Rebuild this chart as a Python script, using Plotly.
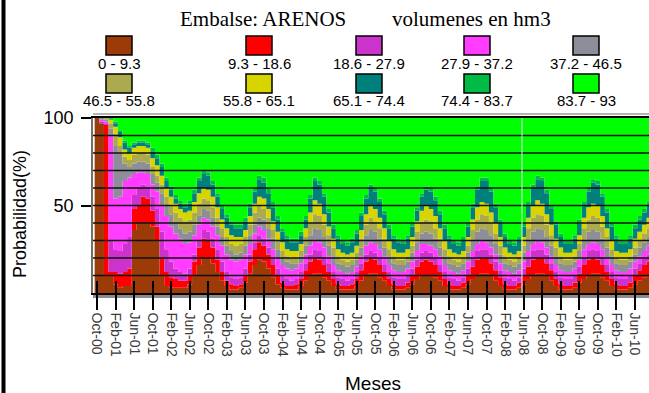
import plotly.graph_objects as go

# ---------------- data (cumulative probability, % , top of each band) ----------------
tick_labels = ["Oct-00", "Feb-01", "Jun-01", "Oct-01", "Feb-02", "Jun-02", "Oct-02", "Feb-03",
               "Jun-03", "Oct-03", "Feb-04", "Jun-04", "Oct-04", "Feb-05", "Jun-05", "Oct-05",
               "Feb-06", "Jun-06", "Oct-06", "Feb-07", "Jun-07", "Oct-07", "Feb-08", "Jun-08",
               "Oct-08", "Feb-09", "Jun-09", "Oct-09", "Feb-10", "Jun-10"]

band_labels = ["0 - 9.3", "9.3 - 18.6", "18.6 - 27.9", "27.9 - 37.2", "37.2 - 46.5",
               "46.5 - 55.8", "55.8 - 65.1", "65.1 - 74.4", "74.4 - 83.7", "83.7 - 93"]
band_colors = ["#9C3A08", "#FF0000", "#CC33CC", "#FF3CFF", "#8E8E9A",
               "#ABAA4E", "#D8D400", "#00807A", "#00BB44", "#00FF00"]

b1 = [100, 97, 10, 10, 5, 3, 4, 4, 36, 40, 40, 40,
      38, 30, 10, 4, 3, 3, 3, 3, 5, 10, 16, 20,
      20, 17, 12, 7, 4, 2, 2, 3, 6, 11, 16, 19,
      18, 14, 9, 5, 3, 2, 2, 2, 4, 7, 10, 11,
      11, 9, 7, 4, 2, 2, 2, 2, 4, 7, 10, 11,
      11, 9, 7, 4, 2, 2, 2, 3, 5, 8, 10, 10,
      10, 9, 7, 4, 2, 2, 2, 3, 5, 8, 10, 11,
      11, 10, 7, 4, 2, 2, 2, 3, 5, 8, 10, 11,
      11, 10, 7, 4, 2, 2, 2, 3, 6, 8, 10, 11,
      11, 9, 7, 4, 2, 2, 2, 3, 5, 7, 9, 10]
b2 = [100, 97, 96, 12, 12, 11, 12, 14, 48, 50, 55, 54,
      47, 38, 20, 12, 9, 8, 7, 7, 10, 18, 26, 31,
      30, 26, 19, 12, 7, 5, 4, 5, 10, 18, 25, 29,
      27, 22, 16, 10, 6, 4, 4, 5, 8, 13, 18, 20,
      19, 16, 12, 8, 5, 4, 4, 5, 8, 13, 18, 20,
      19, 16, 12, 8, 5, 4, 4, 6, 10, 15, 18, 19,
      18, 16, 12, 8, 5, 4, 4, 6, 10, 15, 19, 20,
      20, 17, 13, 9, 5, 4, 4, 6, 10, 15, 19, 20,
      20, 17, 13, 8, 5, 4, 4, 6, 11, 16, 19, 20,
      19, 16, 12, 8, 5, 4, 4, 6, 10, 13, 16, 18]
b3 = [100, 98, 97, 30, 25, 24, 28, 32, 56, 60, 62, 61,
      55, 48, 35, 25, 18, 14, 12, 11, 14, 22, 30, 36,
      35, 31, 25, 18, 12, 9, 8, 9, 14, 22, 29, 33,
      31, 26, 20, 14, 10, 8, 7, 8, 12, 17, 22, 25,
      24, 21, 17, 12, 9, 8, 7, 8, 12, 17, 22, 24,
      23, 20, 16, 12, 9, 8, 8, 10, 14, 19, 23, 24,
      23, 20, 16, 12, 9, 8, 7, 9, 14, 20, 24, 25,
      25, 22, 18, 13, 9, 8, 7, 9, 14, 20, 24, 25,
      25, 22, 17, 12, 9, 8, 8, 10, 15, 20, 24, 25,
      24, 21, 16, 12, 9, 8, 8, 10, 14, 17, 20, 22]
b4 = [100, 99, 98, 90, 54, 55, 64, 66, 68, 69, 69, 68,
      62, 58, 50, 44, 38, 34, 31, 28, 29, 33, 39, 43,
      42, 38, 33, 27, 22, 19, 18, 19, 22, 28, 34, 38,
      36, 31, 25, 20, 16, 14, 13, 14, 17, 22, 27, 30,
      29, 26, 21, 16, 13, 12, 11, 12, 15, 21, 27, 29,
      28, 25, 21, 16, 13, 12, 12, 14, 18, 24, 28, 28,
      27, 25, 21, 16, 13, 12, 11, 13, 18, 24, 28, 30,
      29, 26, 22, 17, 13, 12, 11, 13, 18, 24, 28, 30,
      29, 26, 21, 16, 13, 12, 12, 14, 19, 25, 28, 29,
      28, 25, 20, 16, 13, 12, 12, 14, 18, 21, 24, 27]
b5 = [100, 100, 99, 94, 84, 80, 74, 72, 74, 75, 75, 74,
      68, 63, 57, 50, 45, 40, 37, 34, 35, 39, 44, 48,
      47, 43, 38, 32, 27, 24, 22, 23, 27, 33, 39, 43,
      42, 37, 31, 25, 20, 18, 17, 17, 21, 27, 33, 37,
      36, 32, 27, 21, 17, 16, 15, 16, 19, 26, 33, 36,
      35, 31, 26, 21, 17, 16, 16, 18, 23, 29, 34, 35,
      34, 31, 26, 21, 17, 16, 15, 17, 23, 30, 35, 37,
      36, 33, 28, 22, 17, 16, 15, 17, 23, 30, 35, 37,
      36, 32, 27, 21, 17, 16, 16, 18, 24, 30, 35, 36,
      35, 31, 26, 21, 17, 16, 16, 18, 22, 26, 29, 32]
b6 = [100, 100, 100, 97, 91, 84, 78, 76, 79, 80, 80, 79,
      72, 67, 62, 55, 50, 46, 43, 41, 42, 46, 51, 54,
      53, 49, 43, 37, 32, 28, 27, 28, 32, 39, 46, 50,
      48, 43, 36, 30, 24, 21, 20, 20, 24, 32, 40, 45,
      44, 39, 33, 26, 21, 19, 18, 19, 23, 31, 39, 43,
      41, 37, 31, 25, 21, 19, 19, 21, 27, 35, 40, 42,
      41, 37, 31, 25, 21, 19, 18, 20, 27, 36, 42, 45,
      44, 40, 34, 27, 21, 19, 18, 20, 27, 37, 43, 45,
      44, 39, 33, 26, 21, 19, 19, 21, 28, 37, 42, 44,
      43, 38, 32, 25, 20, 19, 19, 21, 26, 30, 34, 37]
b7 = [100, 100, 100, 99, 95, 89, 82, 80, 83, 84, 84, 83,
      77, 73, 67, 60, 55, 51, 48, 46, 47, 52, 57, 60,
      59, 55, 49, 42, 37, 33, 32, 32, 36, 44, 51, 55,
      54, 48, 41, 35, 29, 25, 24, 24, 28, 37, 46, 53,
      51, 45, 38, 31, 25, 23, 22, 23, 27, 36, 45, 50,
      48, 43, 37, 30, 25, 23, 23, 25, 32, 41, 47, 50,
      48, 44, 37, 30, 25, 23, 22, 24, 32, 42, 49, 52,
      51, 46, 40, 32, 26, 23, 22, 24, 32, 43, 50, 53,
      51, 45, 39, 31, 26, 23, 23, 25, 33, 43, 49, 51,
      50, 44, 37, 30, 24, 23, 23, 25, 31, 35, 39, 43]
b8 = [100, 100, 100, 99, 97, 92, 86, 83, 85, 86, 86, 85,
      81, 77, 72, 64, 59, 54, 51, 49, 51, 57, 64, 68,
      67, 62, 55, 48, 43, 39, 37, 37, 41, 49, 58, 65,
      63, 57, 49, 42, 35, 31, 29, 29, 33, 42, 54, 64,
      62, 55, 46, 37, 31, 28, 27, 29, 34, 44, 54, 60,
      58, 52, 45, 37, 31, 29, 28, 31, 38, 47, 55, 59,
      58, 53, 45, 37, 31, 28, 27, 30, 38, 49, 59, 64,
      64, 58, 49, 40, 32, 28, 27, 30, 38, 50, 60, 65,
      64, 57, 48, 39, 32, 28, 28, 31, 40, 50, 58, 63,
      62, 55, 46, 38, 31, 28, 28, 31, 37, 42, 46, 50]
b9 = [100, 100, 100, 100, 98, 93, 87, 84, 86, 87, 87, 86,
      83, 79, 74, 66, 61, 56, 53, 51, 53, 59, 66, 70,
      69, 64, 57, 50, 45, 41, 39, 39, 43, 51, 60, 67,
      66, 60, 52, 44, 37, 33, 31, 31, 35, 44, 56, 66,
      64, 57, 48, 39, 33, 30, 29, 31, 36, 46, 56, 62,
      60, 54, 47, 39, 33, 31, 30, 33, 40, 49, 57, 61,
      60, 55, 47, 39, 33, 30, 29, 32, 40, 51, 61, 66,
      66, 60, 51, 42, 34, 30, 29, 32, 40, 52, 62, 67,
      66, 59, 50, 41, 34, 30, 30, 33, 42, 52, 60, 65,
      64, 57, 48, 40, 33, 30, 30, 33, 39, 44, 48, 52]
b10 = [100] * len(b1)

grid_values = [10, 20, 30, 40, 50, 60, 70, 80, 90]
ytick_values = [50, 100]

# ---------------- figure ----------------
W, H = 649, 393
ML, MR, MT, MB = 93, 0, 118, 100
PW, PH = W - ML - MR, H - MT - MB


def px(x):
    return (x - ML) / PW


def py(y):
    return (H - MB - y) / PH


months = list(range(len(b1)))
xs = [m - 0.5 for m in months] + [months[-1] + 0.5]

fig = go.Figure()
bounds = [b1, b2, b3, b4, b5, b6, b7, b8, b9, b10]
for i, (bnd, col, lab) in enumerate(zip(bounds, band_colors, band_labels)):
    fig.add_trace(go.Scatter(
        x=xs, y=bnd + [bnd[-1]], mode="lines", line=dict(width=0, shape="hv"),
        fill="tozeroy" if i == 0 else "tonexty", fillcolor=col, name=lab,
        showlegend=False, hoverinfo="skip"))

# second x axis used only for the inner part of the crossing tick marks
fig.add_trace(go.Scatter(x=[0], y=[0], xaxis="x2", mode="markers",
                         marker=dict(opacity=0), showlegend=False, hoverinfo="skip"))

tickvals = [4 * i for i in range(len(tick_labels))]
xr = [-0.86, 119.02]

fig.update_layout(
    width=W, height=H, margin=dict(l=ML, r=MR, t=MT, b=MB, pad=0),
    paper_bgcolor="white", plot_bgcolor="white",
    font=dict(family="Liberation Sans, Arial, sans-serif", color="black"),
    xaxis=dict(range=xr, tickvals=tickvals, ticktext=tick_labels, tickangle=90,
               ticks="outside", ticklen=15, tickwidth=1.5, tickcolor="black",
               tickfont=dict(size=14, color="#3a3a3a"), showgrid=False, zeroline=False,
               showline=True, linecolor="black", linewidth=1.5, mirror=True),
    xaxis2=dict(range=xr, overlaying="x", side="bottom", tickvals=tickvals,
                showticklabels=False, ticks="inside", ticklen=12, tickwidth=1.5,
                tickcolor="black", showgrid=False, zeroline=False, showline=False),
    yaxis=dict(range=[0, 100], tickvals=ytick_values, ticks="outside", ticklen=10,
               tickwidth=1.5, tickcolor="black", tickfont=dict(size=18),
               ticklabelstandoff=4, showgrid=False, zeroline=False,
               showline=True, linecolor="#707070", linewidth=1.5),
)

shapes = []
for g in grid_values:
    shapes.append(dict(type="line", xref="paper", yref="y", x0=0, x1=1, y0=g, y1=g,
                       line=dict(color="#111111", width=1.5), layer="above"))
# light artefact line in the plot
shapes.append(dict(type="line", xref="paper", yref="paper", x0=px(522), x1=px(522),
                   y0=0, y1=1, line=dict(color="#E8E8E8", width=1), layer="above"))
# gray strip under the plot
shapes.append(dict(type="rect", xref="paper", yref="paper", x0=0, x1=1,
                   y0=py(298), y1=py(293.5), fillcolor="#8a8a8a", line=dict(width=0),
                   layer="below"))
# double top frame
shapes.append(dict(type="line", xref="paper", yref="paper", x0=0, x1=1,
                   y0=py(114), y1=py(114), line=dict(color="#9a9a9a", width=1.5)))
# thick left border of the picture
shapes.append(dict(type="line", xref="paper", yref="paper", x0=px(3.5), x1=px(3.5),
                   y0=py(0), y1=py(H), line=dict(color="black", width=4)))

annotations = []
# legend: two rows of five boxes, labels centred under the boxes
col_center = [119, 259, 369, 477, 586]
row_box_top = [36, 74]
row_label_y = [63, 101]
for i, (lab, col) in enumerate(zip(band_labels, band_colors)):
    r, c = divmod(i, 5)
    xc = col_center[c]
    y0 = row_box_top[r]
    shapes.append(dict(type="rect", xref="paper", yref="paper",
                       x0=px(xc - 13), x1=px(xc + 13), y0=py(y0 + 19), y1=py(y0),
                       fillcolor=col, line=dict(color="black", width=1.5)))
    annotations.append(dict(text=lab, xref="paper", yref="paper", x=px(xc),
                            y=py(row_label_y[r]), xanchor="center", yanchor="middle",
                            showarrow=False,
                            font=dict(size=15, family="Liberation Sans, Arial, sans-serif",
                                      color="black")))

annotations.append(dict(text="Embalse: ARENOS", xref="paper", yref="paper", x=px(348),
                        y=py(19), xanchor="right", yanchor="middle", showarrow=False,
                        font=dict(size=21, family="Liberation Serif, Times New Roman, serif")))
annotations.append(dict(text="volumenes en hm3", xref="paper", yref="paper", x=px(390),
                        y=py(19), xanchor="left", yanchor="middle", showarrow=False,
                        font=dict(size=21, family="Liberation Serif, Times New Roman, serif")))
annotations.append(dict(text="Probabilidad(%)", xref="paper", yref="paper", x=px(20),
                        y=py(214), xanchor="center", yanchor="middle", textangle=-90,
                        showarrow=False, font=dict(size=18)))
annotations.append(dict(text="Meses", xref="paper", yref="paper", x=px(373),
                        y=py(383), xanchor="center", yanchor="middle",
                        showarrow=False, font=dict(size=19)))

fig.update_layout(shapes=shapes, annotations=annotations)
fig.write_html("out.html", config={"displayModeBar": False},
               post_script="document.body.style.margin='0';")
